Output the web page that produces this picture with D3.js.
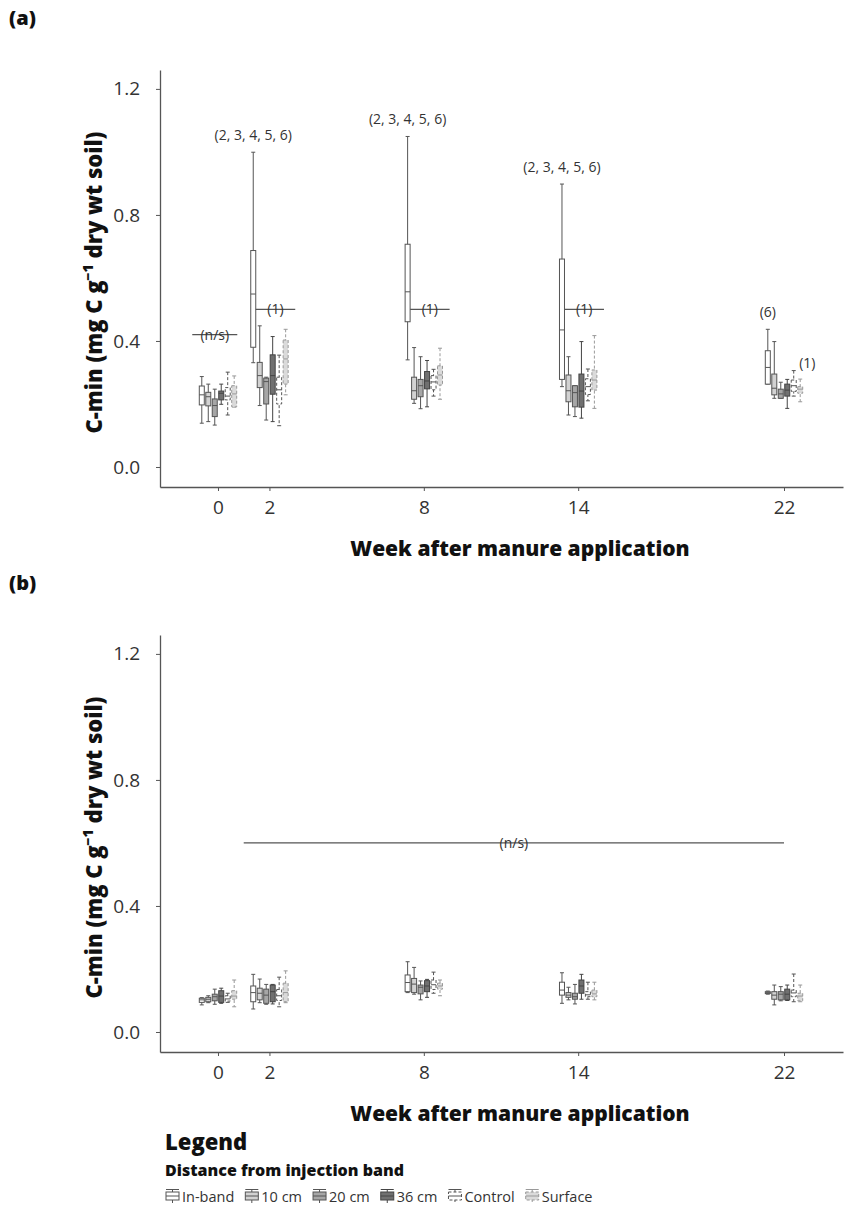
<!DOCTYPE html>
<html>
<head>
<meta charset="utf-8">
<script src="https://cdn.jsdelivr.net/npm/d3@7"></script>
<style>
  html, body { margin: 0; padding: 0; background: #fff; }
  svg { display: block; }
  text { font-family: "Open Sans", "Liberation Sans", sans-serif; }
</style>
</head>
<body>
<svg id="chart" width="858" height="1208"></svg>
<script>
// Sampling weeks and distance classes
const weeks = [0, 2, 8, 14, 22];
const distances = ["In-band", "10 cm", "20 cm", "36 cm", "Control", "Surface"];
const yTicks = [0.0, 0.4, 0.8, 1.2];

// Panel (a): [lower whisker, Q1, median, Q3, upper whisker] per week
const aInBand  = [[0.139,0.197,0.229,0.257,0.287],[0.331,0.380,0.549,0.687,0.999],[0.340,0.461,0.556,0.707,1.049],[0.255,0.278,0.435,0.660,0.898],[0.263,0.263,0.316,0.369,0.437]];
const a10cm    = [[0.144,0.194,0.223,0.237,0.263],[0.195,0.252,0.290,0.332,0.448],[0.202,0.215,0.242,0.285,0.379],[0.165,0.207,0.242,0.292,0.350],[0.218,0.229,0.250,0.295,0.398]];
const a20cm    = [[0.133,0.160,0.195,0.216,0.247],[0.149,0.200,0.271,0.282,0.285],[0.185,0.223,0.258,0.278,0.350],[0.160,0.191,0.236,0.258,0.258],[0.218,0.218,0.232,0.247,0.269]];
const a36cm    = [[0.199,0.213,0.234,0.241,0.263],[0.144,0.231,0.290,0.356,0.414],[0.191,0.248,0.273,0.303,0.338],[0.155,0.190,0.241,0.295,0.398],[0.186,0.225,0.244,0.263,0.278]];
const aControl = [[0.165,0.213,0.225,0.252,0.301],[0.131,0.200,0.245,0.285,0.355],[0.225,0.245,0.270,0.290,0.310],[0.210,0.230,0.255,0.280,0.311],[0.225,0.240,0.258,0.276,0.306]];
const aSurface = [[0.190,0.191,0.232,0.258,0.289],[0.229,0.263,0.343,0.403,0.437],[0.215,0.260,0.292,0.321,0.377],[0.186,0.244,0.276,0.308,0.417],[0.207,0.234,0.247,0.255,0.279]];

// Panel (b)
const bInBand  = [[0.086,0.094,0.102,0.107,0.109],[0.073,0.096,0.125,0.146,0.183],[0.125,0.128,0.157,0.181,0.223],[0.091,0.117,0.133,0.158,0.188],[0.120,0.122,0.125,0.128,0.130]];
const b10cm    = [[0.093,0.096,0.104,0.110,0.115],[0.093,0.102,0.123,0.139,0.168],[0.120,0.125,0.152,0.170,0.205],[0.102,0.110,0.117,0.125,0.142],[0.086,0.104,0.117,0.128,0.149]];
const b20cm    = [[0.088,0.099,0.112,0.120,0.136],[0.088,0.091,0.117,0.136,0.151],[0.102,0.121,0.142,0.149,0.162],[0.089,0.104,0.112,0.123,0.151],[0.099,0.102,0.120,0.128,0.144]];
const b36cm    = [[0.091,0.094,0.114,0.131,0.139],[0.089,0.096,0.128,0.149,0.151],[0.110,0.128,0.146,0.163,0.167],[0.104,0.123,0.146,0.165,0.183],[0.100,0.102,0.120,0.136,0.149]];
const bControl = [[0.094,0.098,0.105,0.115,0.123],[0.080,0.100,0.115,0.135,0.174],[0.123,0.135,0.150,0.165,0.190],[0.104,0.112,0.118,0.128,0.158],[0.096,0.112,0.124,0.133,0.184]];
const bSurface = [[0.080,0.104,0.114,0.131,0.165],[0.093,0.096,0.125,0.155,0.194],[0.115,0.136,0.146,0.155,0.165],[0.102,0.112,0.121,0.133,0.158],[0.096,0.099,0.114,0.123,0.149]];

// Significance annotations
const aGroupLabels = [{week: 2, text: "(2, 3, 4, 5, 6)"}, {week: 8, text: "(2, 3, 4, 5, 6)"}, {week: 14, text: "(2, 3, 4, 5, 6)"}, {week: 22, text: "(6)"}];
const aOneLines = [{week: 2, value: 0.5}, {week: 8, value: 0.5}, {week: 14, value: 0.5}];
const aNsLine = {from: -1.0, to: 0.75, value: 0.42};
const bNsLine = {from: 1, to: 22, value: 0.6};

// Box styling per distance class
const boxStyle = [
  {fill: "#ffffff", stroke: "#555", dash: null},
  {fill: "#d2d2d2", stroke: "#555", dash: null},
  {fill: "#a6a6a6", stroke: "#555", dash: null},
  {fill: "#707070", stroke: "#444", dash: null},
  {fill: "#ffffff", stroke: "#555", dash: "3,2"},
  {fill: "#dadada", stroke: "#999", dash: "3,2"}
];

const svg = d3.select("#chart");
const axisColor = "#555";

const x = d3.scaleLinear().domain([-2.254, 24.293]).range([160, 843]);
const groupOffset = d3.scaleLinear().domain([0, 5]).range([-16.2, 16.2]);
const boxW = 5, capW = 4;

function drawPanel(top, label, series, decorate) {
  const g = svg.append("g").attr("transform", `translate(0,${top})`);
  const y = d3.scaleLinear().domain([-0.0635, 1.26]).range([487, 70]);

  g.append("text").attr("x", 9).attr("y", 25)
    .attr("font-size", 20).attr("font-weight", 800).attr("fill", "#111").text(label);

  // y axis
  const ya = g.append("g").attr("transform", "translate(160,0)")
    .call(d3.axisLeft(y).tickValues(yTicks).tickFormat(d3.format(".1f")).tickSize(4).tickPadding(16).tickSizeOuter(0));
  ya.select(".domain").attr("stroke", axisColor).attr("stroke-width", 1.3);
  ya.selectAll(".tick line").attr("stroke", axisColor);
  ya.selectAll(".tick text").attr("font-size", 19).attr("fill", "#333")
    .attr("font-family", "'Open Sans', sans-serif");

  // x axis
  const xa = g.append("g").attr("transform", "translate(0,487)")
    .call(d3.axisBottom(x).tickValues(weeks).tickFormat(d3.format("d")).tickSize(4).tickPadding(10).tickSizeOuter(0));
  xa.select(".domain").attr("stroke", axisColor).attr("stroke-width", 1.3);
  xa.selectAll(".tick line").attr("stroke", axisColor);
  xa.selectAll(".tick text").attr("font-size", 19).attr("fill", "#333")
    .attr("font-family", "'Open Sans', sans-serif");

  // axis titles
  g.append("text").attr("x", 520).attr("y", 556).attr("text-anchor", "middle")
    .attr("font-size", 21).attr("font-weight", 800).attr("fill", "#111")
    .text("Week after manure application");

  const yt = g.append("text").attr("transform", `translate(102,${(70 + 487) / 2 + 4}) rotate(-90)`)
    .attr("text-anchor", "middle").attr("font-size", 22).attr("font-weight", 800).attr("fill", "#111");
  yt.append("tspan").text("C-min (mg C g");
  yt.append("tspan").attr("font-size", 14).attr("dy", -9).text("−1");
  yt.append("tspan").attr("dy", 9).text(" dry wt soil)");

  // box plots
  series.forEach((vals, si) => {
    const st = boxStyle[si];
    vals.forEach((s, wi) => {
      const cx = x(weeks[wi]) + groupOffset(si);
      const [lo, q1, med, q3, hi] = s;
      const bg = g.append("g");
      bg.append("line").attr("x1", cx).attr("x2", cx).attr("y1", y(hi)).attr("y2", y(lo))
        .attr("stroke", st.stroke).attr("stroke-width", 1).attr("stroke-dasharray", st.dash);
      [lo, hi].forEach(v => bg.append("line").attr("x1", cx - capW / 2).attr("x2", cx + capW / 2)
        .attr("y1", y(v)).attr("y2", y(v)).attr("stroke", st.stroke).attr("stroke-width", 1));
      bg.append("rect").attr("x", cx - boxW / 2).attr("width", boxW)
        .attr("y", y(q3)).attr("height", Math.max(0.5, y(q1) - y(q3)))
        .attr("fill", st.fill).attr("stroke", st.stroke).attr("stroke-width", 1)
        .attr("stroke-dasharray", st.dash);
      bg.append("line").attr("x1", cx - boxW / 2).attr("x2", cx + boxW / 2)
        .attr("y1", y(med)).attr("y2", y(med)).attr("stroke", st.stroke).attr("stroke-width", 1);
    });
  });

  decorate(g, y, series);
}

function sigLine(g, y, x1, x2, v, text) {
  g.append("line").attr("x1", x1).attr("x2", x2).attr("y1", y(v)).attr("y2", y(v))
    .attr("stroke", "#555").attr("stroke-width", 1.3);
  g.append("text").attr("x", (x1 + x2) / 2).attr("y", y(v) + 5).attr("text-anchor", "middle")
    .attr("font-size", 14).attr("fill", "#333").text(text);
}

drawPanel(0, "(a)", [aInBand, a10cm, a20cm, a36cm, aControl, aSurface], (g, y, series) => {
  sigLine(g, y, x(aNsLine.from), x(aNsLine.to), aNsLine.value, "(n/s)");
  aOneLines.forEach(d => {
    const cx = x(d.week) + groupOffset(0);
    sigLine(g, y, cx + boxW / 2, cx + 42, d.value, "(1)");
  });
  aGroupLabels.forEach(d => {
    const wi = weeks.indexOf(d.week);
    const cx = x(d.week) + groupOffset(0);
    g.append("text").attr("x", cx).attr("y", y(aInBand[wi][4]) - 12)
      .attr("text-anchor", "middle").attr("font-size", 14).attr("fill", "#333").text(d.text);
  });
  const wi = weeks.indexOf(22);
  g.append("text").attr("x", x(22) + groupOffset(5) - 1).attr("y", y(aSurface[wi][4]) - 11)
    .attr("font-size", 14).attr("fill", "#333").text("(1)");
});

drawPanel(565, "(b)", [bInBand, b10cm, b20cm, b36cm, bControl, bSurface], (g, y) => {
  sigLine(g, y, x(bNsLine.from), x(bNsLine.to), bNsLine.value, "(n/s)");
});

// Legend
const lg = svg.append("g");
lg.append("text").attr("x", 165).attr("y", 1150).attr("font-size", 22).attr("font-weight", 800)
  .attr("fill", "#111").text("Legend");
lg.append("text").attr("x", 165).attr("y", 1176).attr("font-size", 16).attr("font-weight", 800)
  .attr("fill", "#111").text("Distance from injection band");

let lx = 166;
distances.forEach((name, i) => {
  const st = boxStyle[i];
  const item = lg.append("g").attr("transform", `translate(${lx},1196)`);
  item.append("line").attr("x1", 6.5).attr("x2", 6.5).attr("y1", -7).attr("y2", 7)
    .attr("stroke", st.stroke).attr("stroke-dasharray", st.dash);
  item.append("rect").attr("x", 0).attr("y", -4).attr("width", 13).attr("height", 8)
    .attr("fill", st.fill).attr("stroke", st.stroke).attr("stroke-dasharray", st.dash);
  item.append("line").attr("x1", 0).attr("x2", 13).attr("y1", 0).attr("y2", 0).attr("stroke", st.stroke);
  item.append("line").attr("x1", 0).attr("x2", 13).attr("y1", -6.5).attr("y2", -6.5).attr("stroke", st.stroke);
  const t = item.append("text").attr("x", 16).attr("y", 5.5).attr("font-size", 14.5).attr("fill", "#333").text(name);
  lx += 16 + t.node().getComputedTextLength() + 11;
});
</script>
</body>
</html>
